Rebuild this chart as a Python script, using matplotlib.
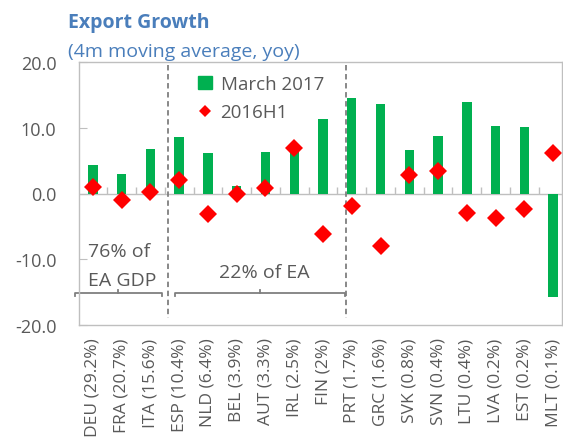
import numpy as np
import matplotlib
matplotlib.use("Agg")
import matplotlib.pyplot as plt
from matplotlib.patches import Patch
from matplotlib.lines import Line2D

plt.rcParams['font.family'] = ['Open Sans', 'DejaVu Sans']

# Data
countries = ["DEU (29.2%)", "FRA (20.7%)", "ITA (15.6%)", "ESP (10.4%)", "NLD (6.4%)",
             "BEL (3.9%)", "AUT (3.3%)", "IRL (2.5%)", "FIN (2%)", "PRT (1.7%)",
             "GRC (1.6%)", "SVK (0.8%)", "SVN (0.4%)", "LTU (0.4%)", "LVA (0.2%)",
             "EST (0.2%)", "MLT (0.1%)"]
march_2017 = [4.3, 3.0, 6.8, 8.6, 6.2, 1.1, 6.3, 6.8, 11.4, 14.5,
              13.6, 6.6, 8.7, 13.9, 10.3, 10.1, -15.7]
h1_2016 = [1.0, -1.0, 0.2, 2.0, -3.1, -0.1, 0.8, 6.9, -6.2, -1.9,
           -8.0, 2.8, 3.4, -3.0, -3.8, -2.4, 6.1]
yticks = [20, 10, 0, -10, -20]

green = "#00B050"
red = "#FF0000"
blue = "#4A7EBB"
grey_txt = "#595959"
grey_line = "#7F7F7F"

W, H = 563, 439
fig = plt.figure(figsize=(W / 100, H / 100), dpi=100)
# plot area runs slightly past the right edge of the image
ax = fig.add_axes([78.6 / W, 113 / H, 488.8 / W, 263 / H])

x = np.arange(len(countries))
ax.bar(x, march_2017, width=0.33, color=green, zorder=2)
ax.plot(x, h1_2016, "D", color=red, ms=9, mew=0, zorder=3)

ax.set_xlim(-0.5, len(countries) - 0.5)
ax.set_ylim(-20, 20)

# zero line with small category ticks
ax.axhline(0, color="#BFBFBF", lw=1, zorder=1)
ax.vlines(np.arange(0.5, len(countries) - 0.5, 1), 0, 1.0, color="#BFBFBF", lw=1, zorder=1)

# separators
for xs in [2.61, 8.8]:
    ax.plot([xs, xs], [19.5, -19.0], ls=(0, (3, 2)), color=grey_line, lw=1.3, zorder=1)

# brackets under the two groups
def bracket(x0, x1, xm, y=-15.2):
    ax.plot([x0, x0, x1, x1], [y - 0.45, y, y, y - 0.45], color=grey_line, lw=1.3,
            clip_on=False, zorder=1)
    ax.plot([xm, xm], [y, y + 0.45], color=grey_line, lw=1.3, zorder=1)

bracket(-0.625, 2.40, 0.87)
bracket(2.85, 8.77, 5.81)
ax.text(-0.18, -8.8, "76% of", fontsize=14, color=grey_txt, va="center", ha="left")
ax.text(-0.18, -13.2, "EA GDP", fontsize=14, color=grey_txt, va="center", ha="left")
ax.text(5.95, -11.9, "22% of EA", fontsize=14, color=grey_txt, va="center", ha="center")

# axes styling
for s in ax.spines.values():
    s.set_color("#BFBFBF")
    s.set_linewidth(1)
fig.add_artist(Line2D([0.999, 0.999], [113 / H, 376 / H], color="#BFBFBF", lw=1))
ax.set_yticks(yticks)
ax.set_yticklabels([f"{v:.1f}" for v in yticks], fontsize=13, color=grey_txt)
ax.tick_params(axis="y", direction="in", length=6, color="#BFBFBF", pad=16)
ax.set_xticks(x)
ax.set_xticklabels(countries, rotation=90, fontsize=12.5, color=grey_txt)
ax.tick_params(axis="x", length=0, pad=9)

handles = [Patch(color=green), Line2D([], [], ls="none", marker="D", color=red, ms=6, mew=0)]
ax.legend(handles, ["March 2017", "2016H1"], loc="upper left", bbox_to_anchor=(0.21, 1.015),
          frameon=False, fontsize=13.5, handlelength=0.75, handleheight=0.75,
          handletextpad=0.45, labelspacing=0.55, labelcolor=grey_txt)

fig.text(68 / W, 1 - 28 / H, "Export Growth", fontsize=14, fontweight="bold", color=blue,
         va="baseline", ha="left")
fig.text(68 / W, 1 - 57 / H, "(4m moving average, yoy)", fontsize=14, color=blue,
         va="baseline", ha="left")

fig.savefig("out.png", dpi=100)
